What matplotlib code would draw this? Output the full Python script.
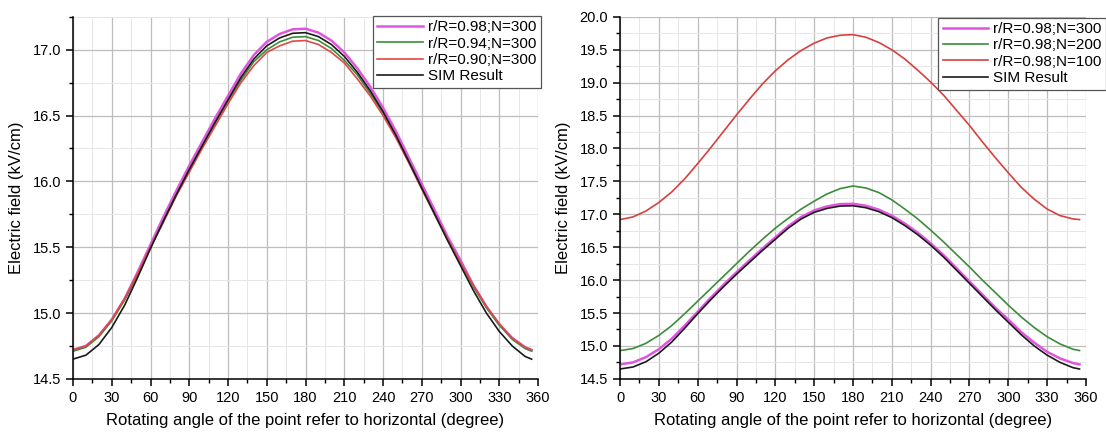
import numpy as np
import matplotlib
matplotlib.use('Agg')
import matplotlib.pyplot as plt
from matplotlib.ticker import MultipleLocator

plt.rcParams['font.family'] = ['Liberation Sans', 'DejaVu Sans']

# rotating angle (degree)
angle = [0, 10, 20, 30, 40, 50, 60, 70, 80, 90, 100, 110, 120, 130, 140, 150, 160, 170, 180,
         190, 200, 210, 220, 230, 240, 250, 260, 270, 280, 290, 300, 310, 320, 330, 340, 350, 355]

# electric field (kV/cm)
sim = [14.65, 14.68, 14.76, 14.89, 15.06, 15.27, 15.49, 15.70, 15.90, 16.09, 16.27, 16.45, 16.62,
       16.79, 16.93, 17.03, 17.09, 17.125, 17.13, 17.10, 17.04, 16.95, 16.83, 16.69, 16.53, 16.35,
       16.15, 15.95, 15.75, 15.55, 15.36, 15.17, 15.00, 14.86, 14.75, 14.67, 14.65]
r098_n300 = [14.72, 14.75, 14.83, 14.95, 15.11, 15.31, 15.52, 15.73, 15.93, 16.12, 16.30, 16.48, 16.65,
             16.82, 16.96, 17.06, 17.12, 17.155, 17.16, 17.13, 17.07, 16.98, 16.86, 16.72, 16.56, 16.38,
             16.18, 15.98, 15.78, 15.58, 15.40, 15.21, 15.05, 14.91, 14.81, 14.74, 14.72]
r094_n300 = [14.71, 14.74, 14.82, 14.94, 15.10, 15.29, 15.50, 15.70, 15.90, 16.09, 16.27, 16.44, 16.61,
             16.77, 16.91, 17.00, 17.06, 17.095, 17.10, 17.07, 17.01, 16.92, 16.81, 16.67, 16.52, 16.34,
             16.15, 15.95, 15.75, 15.56, 15.38, 15.20, 15.04, 14.91, 14.80, 14.73, 14.71]
r090_n300 = [14.72, 14.75, 14.83, 14.95, 15.11, 15.30, 15.50, 15.69, 15.89, 16.07, 16.25, 16.42, 16.59,
             16.75, 16.88, 16.98, 17.03, 17.065, 17.07, 17.04, 16.98, 16.90, 16.78, 16.65, 16.50, 16.33,
             16.14, 15.94, 15.75, 15.56, 15.38, 15.21, 15.05, 14.92, 14.81, 14.74, 14.72]
r098_n200 = [14.93, 14.96, 15.04, 15.16, 15.31, 15.49, 15.68, 15.87, 16.06, 16.25, 16.44, 16.62, 16.79,
             16.94, 17.08, 17.20, 17.31, 17.39, 17.43, 17.40, 17.33, 17.22, 17.08, 16.93, 16.76, 16.58,
             16.39, 16.20, 16.00, 15.81, 15.62, 15.44, 15.28, 15.14, 15.03, 14.95, 14.93]
r098_n100 = [16.92, 16.96, 17.05, 17.18, 17.34, 17.54, 17.77, 18.01, 18.26, 18.51, 18.75, 18.98, 19.18,
             19.35, 19.49, 19.60, 19.68, 19.72, 19.73, 19.69, 19.61, 19.50, 19.36, 19.19, 19.01, 18.81,
             18.58, 18.35, 18.10, 17.86, 17.63, 17.41, 17.23, 17.08, 16.98, 16.93, 16.92]

left_series = [('r/R=0.98;N=300', r098_n300, '#e055e0', 1.8),
               ('r/R=0.94;N=300', r094_n300, '#3c8c3c', 1.2),
               ('r/R=0.90;N=300', r090_n300, '#e04848', 1.2),
               ('SIM Result', sim, '#1a1a1a', 1.2)]
right_series = [('r/R=0.98;N=300', r098_n300, '#e055e0', 1.8),
                ('r/R=0.98;N=200', r098_n200, '#3c8c3c', 1.2),
                ('r/R=0.98;N=100', r098_n100, '#d84040', 1.2),
                ('SIM Result', sim, '#1a1a1a', 1.2)]


def style_axes(ax, ylim, ymajor):
    ax.set_xlim(0, 360)
    ax.set_ylim(*ylim)
    ax.xaxis.set_major_locator(MultipleLocator(30))
    ax.xaxis.set_minor_locator(MultipleLocator(15))
    ax.yaxis.set_major_locator(MultipleLocator(ymajor))
    ax.yaxis.set_minor_locator(MultipleLocator(ymajor / 2))
    ax.yaxis.set_major_formatter(matplotlib.ticker.FormatStrFormatter('%.1f'))
    ax.grid(which='major', color='#bdbdbd', lw=0.9)
    ax.grid(which='minor', color='#e6e6e6', lw=0.7)
    ax.set_axisbelow(True)
    for s in ['top', 'right']:
        ax.spines[s].set_visible(False)
    for s in ['left', 'bottom']:
        ax.spines[s].set_linewidth(1.1)
    ax.tick_params(which='major', direction='out', length=5, width=1.1, labelsize=10.5)
    ax.tick_params(which='minor', direction='out', length=3, width=1.0)
    ax.set_xlabel('Rotating angle of the point refer to horizontal (degree)', fontsize=12, labelpad=6)
    ax.set_ylabel('Electric field (kV/cm)', fontsize=12, labelpad=6)


def plot_panel(ax, series, anchor):
    for label, vals, color, lw in series:
        ax.plot(angle, vals, color=color, lw=lw, label=label)
    leg = ax.legend(loc='upper right', bbox_to_anchor=anchor, borderaxespad=0,
                    fontsize=11, fancybox=False, framealpha=1, edgecolor='#555555',
                    handlelength=3.0, handletextpad=0.3, labelspacing=0.15,
                    borderpad=0.3)
    leg.get_frame().set_linewidth(0.9)


fig = plt.figure(figsize=(11.06, 4.32), dpi=100)
ax1 = fig.add_axes([0.066, 0.123, 0.4205, 0.838])
ax2 = fig.add_axes([0.5606, 0.123, 0.4213, 0.838])

style_axes(ax1, (14.5, 17.25), 0.5)
style_axes(ax2, (14.5, 20.0), 0.5)
plot_panel(ax1, left_series, (1.006, 1.003))
plot_panel(ax2, right_series, (1.043, 0.998))

fig.savefig('out.png', dpi=100)
